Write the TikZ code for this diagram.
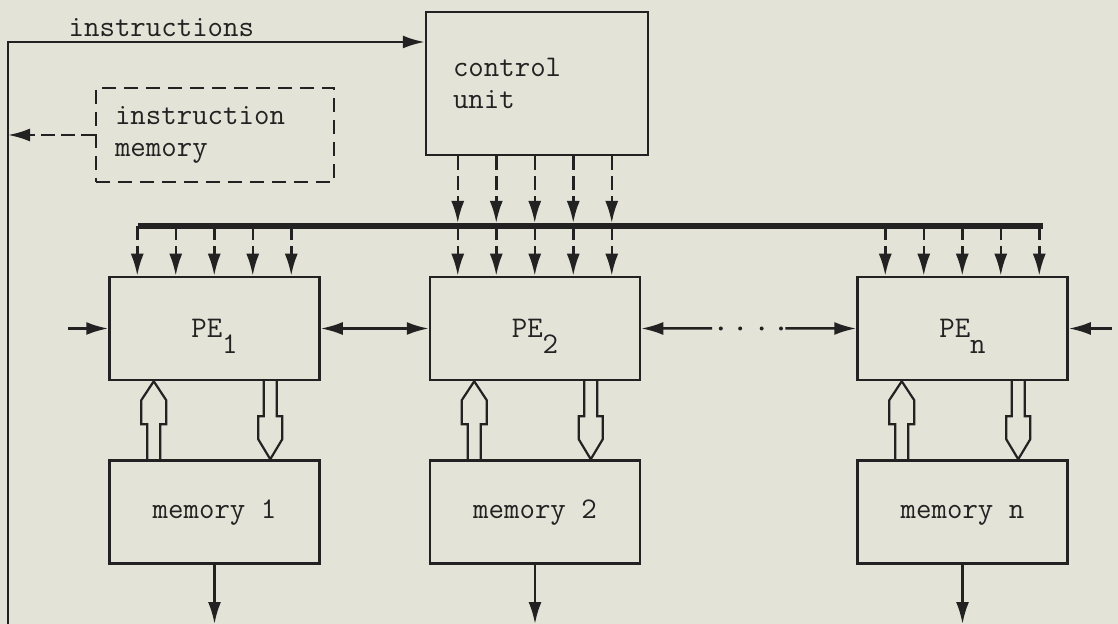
\documentclass[tikz,border=0pt]{standalone}
\usepackage{tikz}
\usetikzlibrary{arrows.meta,positioning,calc}

\definecolor{paper}{RGB}{227,227,216}
\definecolor{ink}{RGB}{34,34,34}

\begin{document}
\begin{tikzpicture}[x=0.5pt,y=-0.5pt,->,>={Latex[length=11pt,width=6.5pt]},
        line width=1.25pt,color=ink,
        every node/.style={font=\ttfamily\fontsize{15}{16}\selectfont},
        box/.style={draw,-,minimum width=105pt,minimum height=51.5pt,inner sep=0pt},
        membox/.style={box,text height=9.5pt,text depth=3pt},
        ctl/.style={dash pattern=on 7pt off 3pt},
        bus/.style={-,line width=3pt},
        blk/.style={-,line width=1.1pt}]

  \useasboundingbox[fill=paper] (0,0) rectangle (1118,624);

  % control side
  \node[box,minimum width=111pt,minimum height=71.5pt,text width=84pt,
        inner xsep=13.5pt,align=left] (ctrl) at (537,83.5) {control\\unit};
  \node[box,dash pattern=on 7pt off 4pt,minimum width=119pt,minimum height=47pt,
        text width=100pt,inner xsep=9.5pt,align=left] (imem) at (215,135)
        {instruction\\memory};

  % processing elements and their memories
  \node[box] (pe1) at (214.5,328.5) {PE\raisebox{-8pt}[0pt][0pt]{1}};
  \node[box] (pe2) at (535,328.5)   {PE\raisebox{-8pt}[0pt][0pt]{2}};
  \node[box] (pen) at (962.5,328.5) {PE\raisebox{-8pt}[0pt][0pt]{n}};
  \node[membox,below=39pt of pe1] (mem1) {memory 1};
  \node[membox,below=39pt of pe2] (mem2) {memory 2};
  \node[membox,below=39pt of pen] (memn) {memory n};

  \coordinate (top)  at (8,42);
  \coordinate (bot)  at (8,624);
  \coordinate (busl) at (138,226);
  \coordinate (busr) at (1043,226);
  \coordinate (inl)  at (68,328.5);
  \coordinate (inr)  at (1112,328.5);

  % instruction path
  \draw (bot) -- (top) -- node[above,pos=0.368,inner sep=2pt] (instr) {instructions}
        (ctrl.west |- top);
  \draw[ctl] (imem.west) -- (imem.west -| top);

  % broadcast bus
  \draw[bus] (busl) -- (busr);
  \foreach \i in {0,...,4} {
    \coordinate (t) at ([xshift=14.5pt+19.25pt*\i]pe2.north west);
    \draw[ctl] (t |- ctrl.south) -- ([yshift=1.5pt]t |- busl);
  }
  \foreach \k in {1,2,n}
    \foreach \i in {0,...,4} {
      \coordinate (t) at ([xshift=14.5pt+19.25pt*\i]pe\k.north west);
      \draw[ctl] (t |- busl) -- (t);
    }

  % neighbour links
  \draw (inl) -- (pe1.west);
  \draw (inr) -- (pen.east);
  \draw[<->] (pe1.east) -- (pe2.west);
  \draw[<-] (pe2.east) -- ($(pe2.east)!0.33!(pen.west)$);
  \draw[->] ($(pe2.east)!0.67!(pen.west)$) -- (pen.west);
  \foreach \p in {0.37,0.46,0.56,0.65}
    \fill ($(pe2.east)!\p!(pen.west)$) circle (1pt);

  % wide data paths between PE and memory
  \foreach \k in {1,2,n} {
    \draw[blk] ([xshift=22.75pt]mem\k.north west) ++(-3.25pt,0pt)
      -- ++(0pt,17.5pt) -- ++(-3pt,0pt) -- ++(0pt,12pt) -- ++(6.25pt,9.5pt)
      -- ++(6.25pt,-9.5pt) -- ++(0pt,-12pt) -- ++(-3pt,0pt) -- ++(0pt,-17.5pt);
    \draw[blk] ([xshift=81pt]pe\k.south west) ++(-3.25pt,0pt)
      -- ++(0pt,-17.5pt) -- ++(-2.75pt,0pt) -- ++(0pt,-11.5pt) -- ++(6pt,-10pt)
      -- ++(6pt,10pt) -- ++(0pt,11.5pt) -- ++(-2.75pt,0pt) -- ++(0pt,17.5pt);
    \draw (mem\k.south) -- (mem\k.south |- bot);
  }

\end{tikzpicture}
\end{document}
